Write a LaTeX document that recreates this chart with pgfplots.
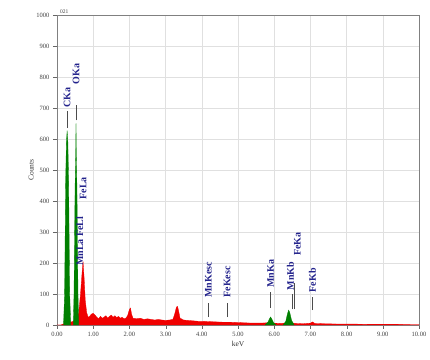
\documentclass[border=0pt]{standalone}
\usepackage{fontspec}
\setmainfont{Liberation Serif}
\usepackage{pgfplots}
\pgfplotsset{compat=1.18}
\definecolor{specred}{RGB}{240,0,0}
\definecolor{specgreen}{RGB}{0,128,0}
\definecolor{lblblue}{RGB}{35,35,140}
\begin{document}
\begin{tikzpicture}
\begin{axis}[
  scale only axis,
  width=362pt, height=310pt,
  xmin=0, xmax=10, ymin=0, ymax=1000,
  xtick={0,1,...,10}, ytick={0,100,...,1000},
  xticklabel style={/pgf/number format/.cd,fixed,fixed zerofill,precision=2},
  yticklabel style={/pgf/number format/.cd,fixed,precision=0,1000 sep={}},
  /pgf/number format/assume math mode=true,
  ticklabel style={font=\fontsize{6.5}{7}\selectfont, text=black!75},
  tick align=outside, major tick length=4pt,
  tick style={black!60},
  xtick pos=bottom, ytick pos=left,
  grid=major, major grid style={black!12},
  axis line style={black!50, line width=0.8pt},
  xlabel={keV}, ylabel={Counts},
  label style={font=\fontsize{7.5}{8}\selectfont, text=black!80},
  xlabel style={yshift=3pt},
  ylabel style={yshift=-4pt},
  clip=false,
]
\addplot[fill=specred, draw=specred, line width=0.3pt] coordinates {
(0.00,0) (0.10,0) (0.15,2) (0.20,5) (0.25,8) (0.30,10) (0.35,8) (0.40,10) (0.45,12)
(0.50,15) (0.55,20) (0.60,40) (0.65,100) (0.70,180) (0.72,205) (0.75,150) (0.78,80)
(0.82,40) (0.86,25) (0.90,28) (0.95,35) (1.00,38) (1.05,32) (1.10,25) (1.15,20)
(1.20,28) (1.25,22) (1.30,25) (1.35,30) (1.40,22) (1.45,28) (1.50,32) (1.55,25)
(1.60,30) (1.65,24) (1.70,28) (1.75,22) (1.80,25) (1.85,20) (1.90,22) (1.95,30)
(2.00,50) (2.03,55) (2.06,35) (2.10,22) (2.20,20) (2.30,22) (2.40,18) (2.50,20)
(2.60,18) (2.70,16) (2.80,18) (2.90,16) (3.00,15) (3.10,16) (3.20,18) (3.25,35)
(3.30,58) (3.33,60) (3.36,45) (3.40,22) (3.50,16) (3.60,15) (3.70,14) (3.80,13)
(3.90,12) (4.00,12) (4.20,11) (4.40,10) (4.60,9) (4.80,9) (5.00,8) (5.20,7)
(5.40,6) (5.60,6) (5.80,7) (6.00,6) (6.20,5) (6.40,8) (6.60,5) (6.80,4) (7.00,6)
(7.06,10) (7.12,5) (7.40,4) (7.80,3) (8.20,3) (8.60,2) (9.00,2) (9.40,2) (9.80,1) (10.00,1)
} \closedcycle;
% green peaks
\addplot[fill=specgreen, draw=specgreen, line width=0.3pt] coordinates {
(0.18,0) (0.21,100) (0.24,470) (0.26,590) (0.28,627) (0.30,590) (0.32,470) (0.35,100) (0.38,0)
} \closedcycle;
\addplot[fill=specgreen, draw=specgreen, line width=0.3pt] coordinates {
(0.45,0) (0.47,100) (0.50,450) (0.515,535) (0.525,650) (0.535,535) (0.55,450) (0.58,100) (0.60,0)
} \closedcycle;
\addplot[fill=specgreen, draw=specgreen, line width=0.3pt] coordinates {
(5.75,0) (5.82,8) (5.87,20) (5.90,26) (5.93,20) (5.98,8) (6.05,0)
} \closedcycle;
\addplot[fill=specgreen, draw=specgreen, line width=0.3pt] coordinates {
(6.25,0) (6.32,12) (6.37,38) (6.40,48) (6.43,40) (6.48,15) (6.55,0)
} \closedcycle;
% peak labels
\tikzset{pk/.style={rotate=90, anchor=west, inner sep=0pt, text=lblblue, font=\bfseries\fontsize{10}{11}\selectfont},
         pl/.style={black!70, line width=0.4pt}}
\draw[pl] (axis cs:0.28,635) -- (axis cs:0.28,690);
\node[pk] at (axis cs:0.28,700) {CKa};
\draw[pl] (axis cs:0.53,660) -- (axis cs:0.53,710);
\node[pk] at (axis cs:0.53,775) {OKa};
\node[pk] at (axis cs:0.63,190) {MnLa FeLl};
\node[pk] at (axis cs:0.72,405) {FeLa};
\draw[pl] (axis cs:4.18,25) -- (axis cs:4.18,70);
\node[pk] at (axis cs:4.18,88) {MnKesc};
\draw[pl] (axis cs:4.70,25) -- (axis cs:4.70,70);
\node[pk] at (axis cs:4.70,88) {FeKesc};
\draw[pl] (axis cs:5.90,55) -- (axis cs:5.90,105);
\node[pk] at (axis cs:5.90,120) {MnKa};
\draw[pl] (axis cs:6.49,50) -- (axis cs:6.49,100);
\node[pk] at (axis cs:6.45,112) {MnKb};
\draw[pl] (axis cs:6.55,50) -- (axis cs:6.55,135);
\node[pk] at (axis cs:6.64,222) {FeKa};
\draw[pl] (axis cs:7.06,48) -- (axis cs:7.06,90);
\node[pk] at (axis cs:7.06,105) {FeKb};
\node[anchor=south west, font=\fontsize{5.5}{6}\selectfont, text=black!75, inner sep=1pt] at (axis cs:0.05,1000) {021};
\end{axis}
\pgfresetboundingbox
\path[use as bounding box] ([shift={(-57pt,-35pt)}]current axis.south west) rectangle ([shift={(11pt,15pt)}]current axis.north east);
\end{tikzpicture}
\end{document}
